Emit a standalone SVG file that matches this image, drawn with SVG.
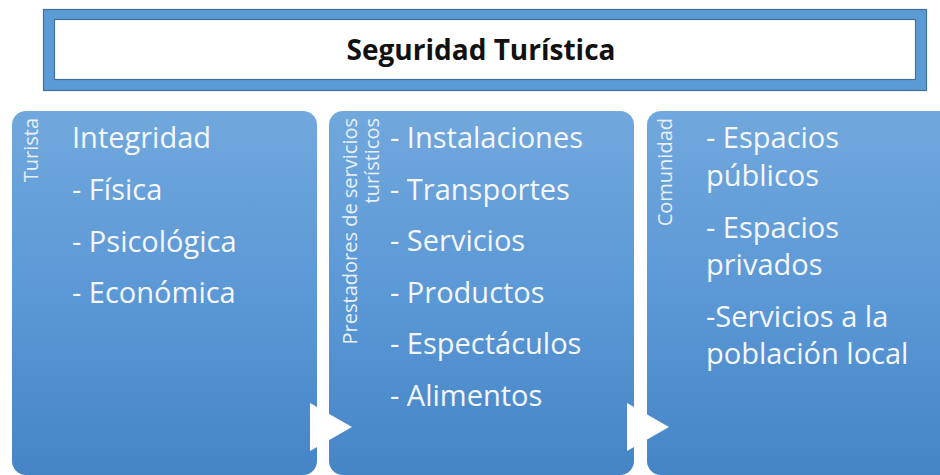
<svg xmlns="http://www.w3.org/2000/svg" width="940" height="475" viewBox="0 0 940 475">
  <defs>
    <linearGradient id="panelGrad" x1="0" y1="0" x2="0" y2="1">
      <stop offset="0" stop-color="#71a8dd"/>
      <stop offset="0.5" stop-color="#5b98d6"/>
      <stop offset="1" stop-color="#4585c6"/>
    </linearGradient>
    <style>
      .panel { fill: url(#panelGrad); }
      .body { font-family: "Open Sans", "DejaVu Sans", sans-serif; font-size: 29px; fill: #f5f7fa; }
      .vlabel { font-family: "Open Sans", "DejaVu Sans", sans-serif; font-size: 20px; fill: #e8f0f8; text-anchor: end; }
      .title { font-family: "Open Sans", "DejaVu Sans", sans-serif; font-size: 28px; font-weight: bold; fill: #111111; text-anchor: middle; }
      .arrow { fill: #ffffff; }
    </style>
  </defs>
  <rect x="0" y="0" width="940" height="475" fill="#ffffff"/>

  <g id="title">
    <rect x="43.5" y="9.5" width="883" height="81" fill="#5b9bd5" stroke="#41719c" stroke-width="1.2"/>
    <rect x="54.5" y="19.5" width="861" height="60" fill="#ffffff" stroke="#41719c" stroke-width="1.2"/>
    <text class="title" x="481" y="60">Seguridad Turística</text>
  </g>

  <g id="turista">
    <rect class="panel" x="12" y="111" width="305" height="364" rx="14" ry="14"/>
    <text class="vlabel" transform="translate(38,118) rotate(-90)">Turista</text>
    <text class="body" x="72" y="148">Integridad</text>
    <text class="body" x="72" y="200">- Física</text>
    <text class="body" x="72" y="251.5">- Psicológica</text>
    <text class="body" x="72" y="303">- Económica</text>
  </g>

  <g id="prestadores">
    <rect class="panel" x="329" y="111" width="305" height="364" rx="14" ry="14"/>
    <text class="vlabel" transform="translate(357,118) rotate(-90)">Prestadores de servicios</text>
    <text class="vlabel" transform="translate(379,118) rotate(-90)">turísticos</text>
    <text class="body" x="390" y="148">- Instalaciones</text>
    <text class="body" x="390" y="199.5">- Transportes</text>
    <text class="body" x="390" y="251">- Servicios</text>
    <text class="body" x="390" y="302.5">- Productos</text>
    <text class="body" x="390" y="354">- Espectáculos</text>
    <text class="body" x="390" y="405.5">- Alimentos</text>
  </g>

  <g id="comunidad">
    <rect class="panel" x="647" y="111" width="310" height="364" rx="14" ry="14"/>
    <text class="vlabel" transform="translate(672,118) rotate(-90)">Comunidad</text>
    <text class="body" x="706" y="148">- Espacios</text>
    <text class="body" x="706" y="185.5">públicos</text>
    <text class="body" x="706" y="237.5">- Espacios</text>
    <text class="body" x="706" y="275">privados</text>
    <text class="body" x="706" y="327">-Servicios a la</text>
    <text class="body" x="706" y="363.5">población local</text>
  </g>

  <g id="connectors">
    <polygon class="arrow" points="310,403 352,427 310,451"/>
    <polygon class="arrow" points="627,403 669,427 627,451"/>
  </g>
</svg>
